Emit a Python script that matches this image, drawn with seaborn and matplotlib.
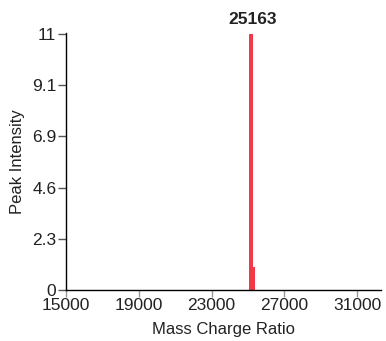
import numpy as np
import pandas as pd
import matplotlib
matplotlib.use("Agg")
import matplotlib.pyplot as plt
import seaborn as sns

#------------data
mass_charge = [25163, 25300]
peak_intensity = [11.43, 1.0]
peak_label = "25163"
x_ticks = [15000, 19000, 23000, 27000, 31000]
y_tick_labels = ["0", "2.3", "4.6", "6.9", "9.1", "11"]

df = pd.DataFrame({"mz": mass_charge, "intensity": peak_intensity})

sns.set_style("white")
plt.rcParams["font.family"] = ["Liberation Sans", "DejaVu Sans"]

fig = plt.figure(figsize=(3.86, 3.41), dpi=100)
ax = fig.add_axes([0.171, 0.150, 0.816, 0.753])

sns.barplot(data=df, x="mz", y="intensity", native_scale=True, width=1.5,
            color="#f03a47", saturation=1, linewidth=0, ax=ax)

#------------peak label on top of the biggest bar
top = df.loc[df["intensity"].idxmax()]
ax.text(top["mz"] + 100, top["intensity"] + 0.3, peak_label, ha="center", va="bottom",
        fontsize=12.5, fontweight="bold", color="#222222")

ax.set_xlim(15000, 32300)
ax.set_ylim(0, max(peak_intensity) * 1.004)
ax.set_xticks(x_ticks)
ax.set_xticklabels([str(t) for t in x_ticks])
ax.set_yticks(np.linspace(0, max(peak_intensity), len(y_tick_labels)))
ax.set_yticklabels(y_tick_labels)

ax.set_xlabel("Mass Charge Ratio", fontsize=12, color="#222222", labelpad=6)
ax.set_ylabel("Peak Intensity", fontsize=12, color="#222222", labelpad=5)

for side in ["top", "right"]:
    ax.spines[side].set_visible(False)
for side in ["left", "bottom"]:
    ax.spines[side].set_color("black")
    ax.spines[side].set_linewidth(1)

ax.tick_params(axis="x", length=5, width=1, color="#999999", labelsize=12.5,
               labelcolor="#222222", pad=1, bottom=True)
ax.tick_params(axis="y", length=6, width=1, color="#555555", labelsize=12.5,
               labelcolor="#222222", pad=1, left=True)

fig.savefig("out.png", dpi=100)
